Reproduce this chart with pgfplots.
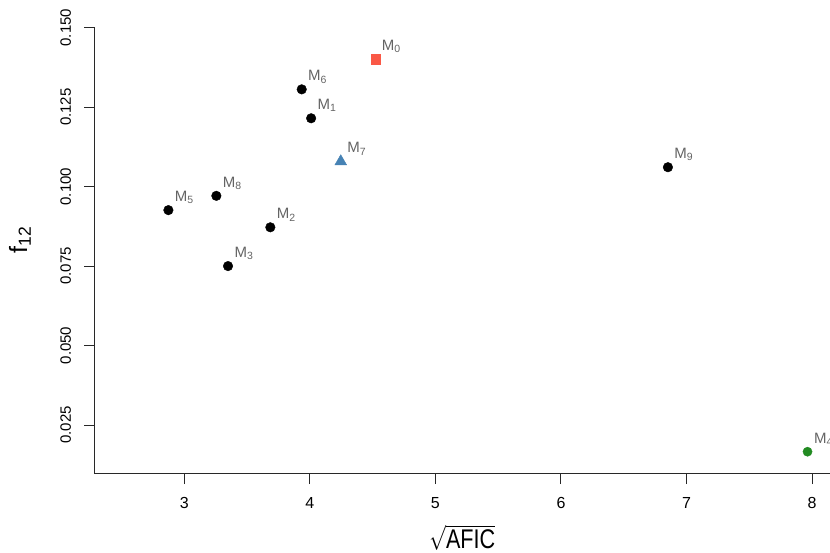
\documentclass[border=0pt]{standalone}
\usepackage{graphicx}
\usepackage{pgfplots}
\pgfplotsset{compat=1.18}
\usepackage{fontspec}
\setmainfont{Liberation Sans}
\definecolor{lbl}{RGB}{100,100,100}
\definecolor{mred}{RGB}{250,88,70}
\definecolor{mblue}{RGB}{70,130,180}
\definecolor{mgreen}{RGB}{34,139,34}
\definecolor{axcol}{RGB}{40,40,40}
\begin{document}
\begin{tikzpicture}
\begin{axis}[
    scale only axis,
    width=735.3pt, height=446pt,
    xmin=2.286, xmax=8.143,
    ymin=0.00968, ymax=0.150,
    axis x line*=bottom, axis y line*=left,
    axis line style={axcol, line width=1pt},
    xtick={3,4,5,6,7,8},
    ytick={0.025,0.05,0.075,0.1,0.125,0.15},
    yticklabels={0.025,0.050,0.075,0.100,0.125,0.150},
    tick align=outside,
    major tick length=10.5pt,
    tick style={axcol, line width=1pt},
    /pgf/number format/assume math mode=true,
    ticklabel style={inner sep=0pt},
    yticklabel style={rotate=90, anchor=south, font=\fontsize{15}{18}\selectfont},
    xticklabel style={anchor=north, font=\fontsize{16}{19}\selectfont},
    xticklabel shift=13pt,
    yticklabel shift=13pt,
    xlabel={\scalebox{0.8}[1]{$\sqrt{\mbox{AFIC}}$}},
    xlabel style={at={(axis description cs:0.5,-0.144)}, anchor=center, font=\fontsize{27}{30}\selectfont},
    ylabel={f\textsubscript{12}},
    ylabel style={at={(axis description cs:-0.1016,0.524)}, anchor=center, font=\fontsize{25}{28}\selectfont},
    only marks,
    point meta=explicit symbolic,
    nodes near coords,
    nodes near coords style={anchor=base west, inner sep=0pt, xshift=6.3pt, yshift=8.6pt,
        text=lbl, font=\fontsize{15}{17}\selectfont},
]
% black models
\addplot[mark=*, mark size=4.8pt, draw=black, fill=black] coordinates {
    (4.010,0.1215) [M\textsubscript{1}]
    (3.685,0.0872) [M\textsubscript{2}]
    (3.348,0.0750) [M\textsubscript{3}]
    (2.873,0.0926) [M\textsubscript{5}]
    (3.935,0.1306) [M\textsubscript{6}]
    (3.255,0.0971) [M\textsubscript{8}]
    (6.852,0.1061) [M\textsubscript{9}]
};
% M0
\addplot[mark=square*, mark size=4.7pt, draw=mred, fill=mred] coordinates {
    (4.522,0.1401) [M\textsubscript{0}]
};
% M7
\addplot[mark=triangle*, mark size=6.8pt, draw=mblue, fill=mblue] coordinates {
    (4.246,0.1079) [M\textsubscript{7}]
};
% M4
\addplot[mark=*, mark size=4.6pt, draw=mgreen, fill=mgreen] coordinates {
    (7.964,0.0166) [M\textsubscript{4}]
};
\coordinate (bl) at (rel axis cs:0,0);
\coordinate (tr) at (rel axis cs:1,1);
\end{axis}
\pgfresetboundingbox
\path[use as bounding box] ([xshift=-94.7pt,yshift=-79.3pt]bl) rectangle ([yshift=27.7pt]tr);
\end{tikzpicture}
\end{document}
